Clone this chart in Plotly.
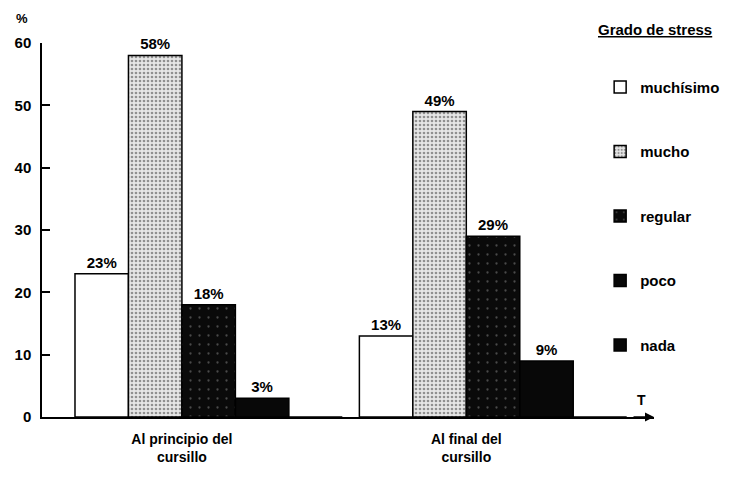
import plotly.graph_objects as go

# ---- data ----
groups = ["Al principio del<br>cursillo", "Al final del<br>cursillo"]
categories = ["muchísimo", "mucho", "regular", "poco", "nada"]
muchisimo = [23, 13]
mucho = [58, 49]
regular = [18, 29]
poco = [3, 9]
nada = [0, 0]
y_ticks = [0, 10, 20, 30, 40, 50, 60]
legend_title = "Grado de stress"

series = [muchisimo, mucho, regular, poco, nada]

FONT = "Liberation Sans, Arial, sans-serif"
markers = [
    dict(color="white", line=dict(color="black", width=1.5)),
    dict(color="#d9d9d9", line=dict(color="black", width=1.5),
         pattern=dict(shape=".", fgcolor="#3a3a3a", bgcolor="#e6e6e6", size=4, solidity=0.35)),
    dict(color="#111111", line=dict(color="black", width=1.5),
         pattern=dict(shape=".", fgcolor="#8a8a8a", bgcolor="#0a0a0a", size=9, solidity=0.05)),
    dict(color="#080808", line=dict(color="black", width=1.5)),
    dict(color="#080808", line=dict(color="black", width=1.5)),
]

bw = 0.188
group_pos = list(range(len(groups)))

fig = go.Figure()
for k, (name, vals) in enumerate(zip(categories, series)):
    xs = [g + (k - 1.5) * bw for g in group_pos]
    fig.add_bar(
        x=xs, y=vals, width=bw, name=name, legendgroup=name,
        text=[f"{v}%" if v else "" for v in vals],
        textposition="outside", cliponaxis=False,
        textfont=dict(family=FONT, size=15, color="black", weight="bold"),
        marker=markers[k],
        hoverinfo="skip",
    )

fig.update_layout(
    width=729, height=474,
    margin=dict(l=34, r=72, t=35, b=65),
    paper_bgcolor="white", plot_bgcolor="white",
    barmode="overlay",
    font=dict(family=FONT, size=13, color="black"),
    showlegend=True,
    legend=dict(
        x=0.912, xanchor="left", y=0.926, yanchor="top",
        bgcolor="rgba(0,0,0,0)",
        font=dict(family=FONT, size=15, color="black", weight="bold"),
        tracegroupgap=42,
        traceorder="grouped",
        maxheight=470,
    ),
    xaxis=dict(
        range=[-0.492, 1.66],
        tickvals=group_pos, ticktext=groups,
        ticks="", showgrid=False, zeroline=False,
        showline=True, linecolor="black", linewidth=1.5,
        tickfont=dict(family=FONT, size=14, color="black", weight="bold"),
        ticklabelstandoff=8,
        automargin=False, fixedrange=True,
    ),
    yaxis=dict(
        range=[0, 60], tickvals=y_ticks,
        ticks="inside", ticklen=8, tickwidth=1.5, tickcolor="black",
        showgrid=False, zeroline=False,
        showline=True, linecolor="black", linewidth=1.5,
        tickfont=dict(family=FONT, size=15, color="black", weight="bold"),
        ticklabelstandoff=6,
        automargin=False, fixedrange=True,
    ),
    annotations=[
        dict(text=f"<u>{legend_title}</u>", xref="paper", yref="paper",
             x=0.905, xanchor="left", y=1.035, yanchor="middle",
             showarrow=False, font=dict(family=FONT, size=15, color="black", weight="bold")),
        dict(text="<b>%</b>", xref="paper", yref="paper", x=-0.046, y=1.09,
             showarrow=False, font=dict(size=13)),
        dict(text="<b>T</b>", xref="x", yref="y", x=1.617, y=2.8,
             showarrow=False, font=dict(size=14)),
        dict(text="", xref="x", yref="y", x=1.66, y=0, ax=-22, ay=0,
             showarrow=True, arrowhead=2, arrowsize=1.2, arrowwidth=1.5, arrowcolor="black"),
    ],
)

fig.write_html("out.html")
